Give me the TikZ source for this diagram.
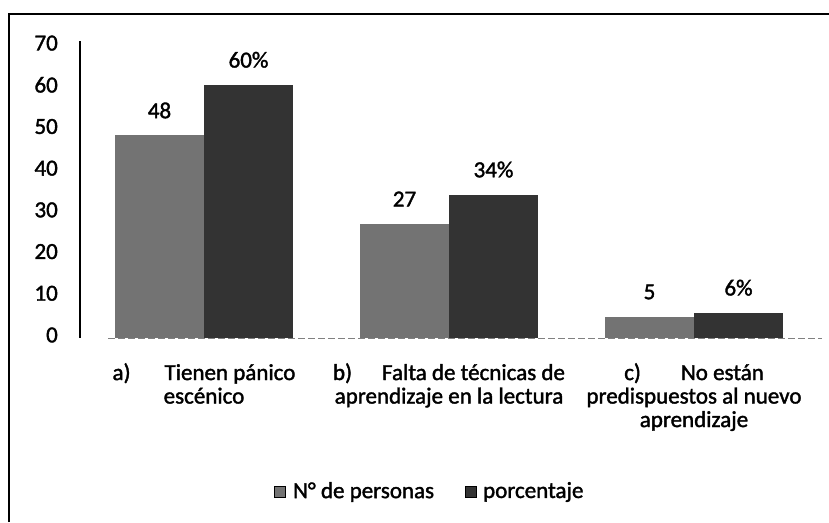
\documentclass[tikz,border=0pt]{standalone}
\usepackage{fontspec}
\setmainfont{Carlito}[FakeBold=1.6]
\usetikzlibrary{positioning}
\tikzstyle{bara}=[fill=black!55]
\tikzstyle{barb}=[fill=black!80]
\tikzstyle{lbl}=[inner sep=0,font=\fontsize{23}{23.5}\selectfont]
\tikzstyle{keybox}=[draw=black,line width=0.8pt,minimum size=11pt,inner sep=0]

\begin{document}
\begin{tikzpicture}[x=1pt,y=-1pt,
    tick/.style={lbl,anchor=east},
    val/.style={lbl,anchor=center},
    cat/.style={lbl,anchor=north,align=center},
    key/.style={lbl},
    frame/.style={black,line width=1.4pt},
    axis/.style={black,line width=1.1pt},
    zero/.style={gray,line width=1pt,dash pattern=on 7pt off 3pt}
    ]
    \useasboundingbox (0,0) rectangle (829,522);

    % frame round the chart
    \coordinate (frameBL) at (9,522);
    \coordinate (frameTL) at (9,14);
    \coordinate (frameTR) at (829,14);
    \draw [frame] (frameBL) -- (frameTL) -- (frameTR);

    % axes
    \coordinate (axtop) at (80,41);
    \coordinate (axbot) at (80,338);
    \coordinate (baseL) at (108,338);
    \coordinate (baseR) at (822,338);
    \draw [axis] (axtop) -- (axbot);
    \draw [zero] (baseL) -- (baseR);

    \foreach \v in {0,10,...,70} {
      \node [tick] (tick\v) at (58,{335-4.17*\v}) {\v};
    }

    % bars and their values
    \foreach \x/\n/\p/\k in {115/48/60/A, 360/27/34/B, 605/5/6/C} {
      \fill [bara] (\x,338) rectangle ++(89,{-4.22*\n});
      \fill [barb] (\x+89,338) rectangle ++(89,{-4.22*\p});
      \node [val] (num\k) at (\x+44.5,{338-4.22*\n-25}) {\n};
      \node [val] (pct\k) at (\x+133.5,{338-4.22*\p-25}) {\p\%};
    }

    % categories
    \node [cat] (catA) at (204,363) {a)\hspace{34pt}Tienen pánico\\escénico};
    \node [cat] (catB) at (449,363) {b)\hspace{30pt}Falta de técnicas de\\aprendizaje en la lectura};
    \node [cat] (catC) at (694,363) {c)\hspace{40pt}No están\\predispuestos al nuevo\\aprendizaje};

    % legend
    \node [keybox,bara] (keyA) at (280,492) {};
    \node [key,right=7pt of keyA] (keyAtxt) {N° de personas};
    \node [keybox,barb] (keyB) at (471,492) {};
    \node [key,right=6pt of keyB] (keyBtxt) {porcentaje};
\end{tikzpicture}
\end{document}
